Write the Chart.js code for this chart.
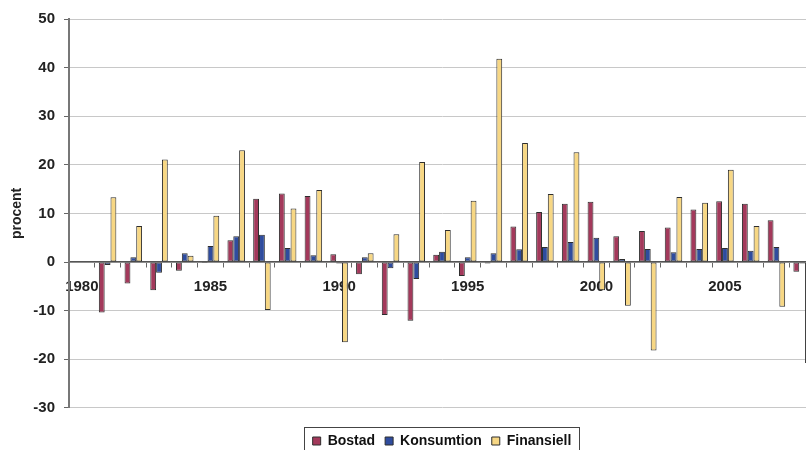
<!DOCTYPE html>
<html>
<head>
<meta charset="utf-8">
<script src="https://cdn.jsdelivr.net/npm/chart.js@4/dist/chart.umd.min.js"></script>
<style>
  html, body { margin: 0; padding: 0; background: #fff; width: 806px; height: 450px; overflow: hidden; }
  canvas { display: block; }
</style>
</head>
<body>
<canvas id="chart" width="830" height="460"></canvas>
<script>
// Yearly change, percent
const years = ['1980','1981','1982','1983','1984','1985','1986','1987','1988','1989',
               '1990','1991','1992','1993','1994','1995','1996','1997','1998','1999',
               '2000','2001','2002','2003','2004','2005','2006','2007','2008'];

const bostad = [null, -10.4, -4.4, -5.8, -1.8, -0.2, 4.5, 13.0, 14.1, 13.6,
                1.6, -2.5, -10.9, -12.1, 1.5, -2.9, -0.3, 7.3, 10.3, 12.0,
                12.4, 5.3, 6.4, 7.1, 10.8, 12.5, 12.0, 8.6, -2.0];

const konsumtion = [null, -0.6, 1.0, -2.2, 1.8, 3.3, 5.3, 5.6, 2.9, 1.4,
                    -0.3, 1.0, -1.3, -3.5, 2.1, 1.0, 1.8, 2.6, 3.1, 4.1,
                    5.0, 0.6, 2.7, 2.0, 2.7, 2.9, 2.3, 3.1, -0.3];

const finansiell = [null, 13.3, 7.4, 21.1, 1.3, 9.5, 23.0, -9.9, 11.0, 14.8,
                    -16.5, 1.8, 5.7, 20.6, 6.6, 12.6, 41.8, 24.5, 14.0, 22.6,
                    -5.8, -9.0, -18.2, 13.4, 12.2, 19.0, 7.4, -9.2, -20.8];

// Only every fifth year carries a label on the category axis
const labelledYears = ['1980','1985','1990','1995','2000','2005'];

const yTicks = { min: -30, max: 50, step: 10 };

Chart.defaults.font.family = '"Liberation Sans", Arial, Helvetica, sans-serif';

// Thin frame around the legend entries
const legendFrame = {
  id: 'legendFrame',
  afterDraw(chart) {
    const boxes = chart.legend && chart.legend.legendHitBoxes;
    if (!boxes || !boxes.length) return;
    const first = boxes[0];
    const last = boxes[boxes.length - 1];
    const ctx = chart.ctx;
    const l = Math.round(first.left - 9) + 0.5;
    const r = Math.round(last.left + last.width + 8) + 0.5;
    const t = Math.round(first.top - 7) + 0.5;
    ctx.save();
    ctx.strokeStyle = '#444';
    ctx.lineWidth = 1;
    ctx.strokeRect(l, t, r - l, 40);
    ctx.restore();
  }
};

const barStyle = {
  borderWidth: 1,
  borderColor: '#2e2e2e',
  borderSkipped: false,
  categoryPercentage: 0.68,
  barPercentage: 1.0
};

new Chart(document.getElementById('chart'), {
  type: 'bar',
  data: {
    labels: years,
    datasets: [
      Object.assign({ label: 'Bostad', data: bostad, backgroundColor: '#a3395b' }, barStyle),
      Object.assign({ label: 'Konsumtion', data: konsumtion, backgroundColor: '#2f4c9e' }, barStyle),
      Object.assign({ label: 'Finansiell', data: finansiell, backgroundColor: '#f7d784' }, barStyle)
    ]
  },
  options: {
    responsive: false,
    animation: false,
    devicePixelRatio: 1,
    layout: { padding: { top: 19, right: 15, bottom: 2, left: 0 } },
    plugins: {
      tooltip: { enabled: false },
      legend: {
        position: 'bottom',
        fullSize: false,
        align: 'center',
        title: { display: true, text: '', font: { size: 1 }, padding: { top: 0, bottom: 15 } },
        labels: {
          boxWidth: 8,
          boxHeight: 8,
          padding: 10,
          color: '#111',
          font: { size: 14, weight: 'bold' }
        }
      }
    },
    scales: {
      x: {
        position: { y: 0 },
        offset: true,
        grid: {
          offset: true,
          drawOnChartArea: false,
          drawTicks: true,
          tickLength: 5,
          tickColor: '#666',
          tickWidth: 1
        },
        border: { display: true, color: '#555', width: 1.5 },
        ticks: {
          autoSkip: false,
          maxRotation: 0,
          minRotation: 0,
          padding: 11,
          color: '#222',
          font: { size: 15, weight: 'bold' },
          callback(value, index) {
            const y = years[index];
            return labelledYears.includes(y) ? y : '';
          }
        }
      },
      y: {
        min: yTicks.min,
        max: yTicks.max,
        ticks: {
          stepSize: yTicks.step,
          padding: 9,
          color: '#222',
          font: { size: 15, weight: 'bold' }
        },
        grid: { color: '#c8c8c8', lineWidth: 1, tickColor: '#666', tickLength: 5 },
        border: { color: '#777', width: 2 },
        title: {
          display: true,
          text: 'procent',
          color: '#222',
          font: { size: 14, weight: 'bold' },
          padding: { top: 9, bottom: 0 }
        },
        afterFit(scale) { scale.width = 69; }
      }
    }
  },
  plugins: [legendFrame]
});
</script>
</body>
</html>
